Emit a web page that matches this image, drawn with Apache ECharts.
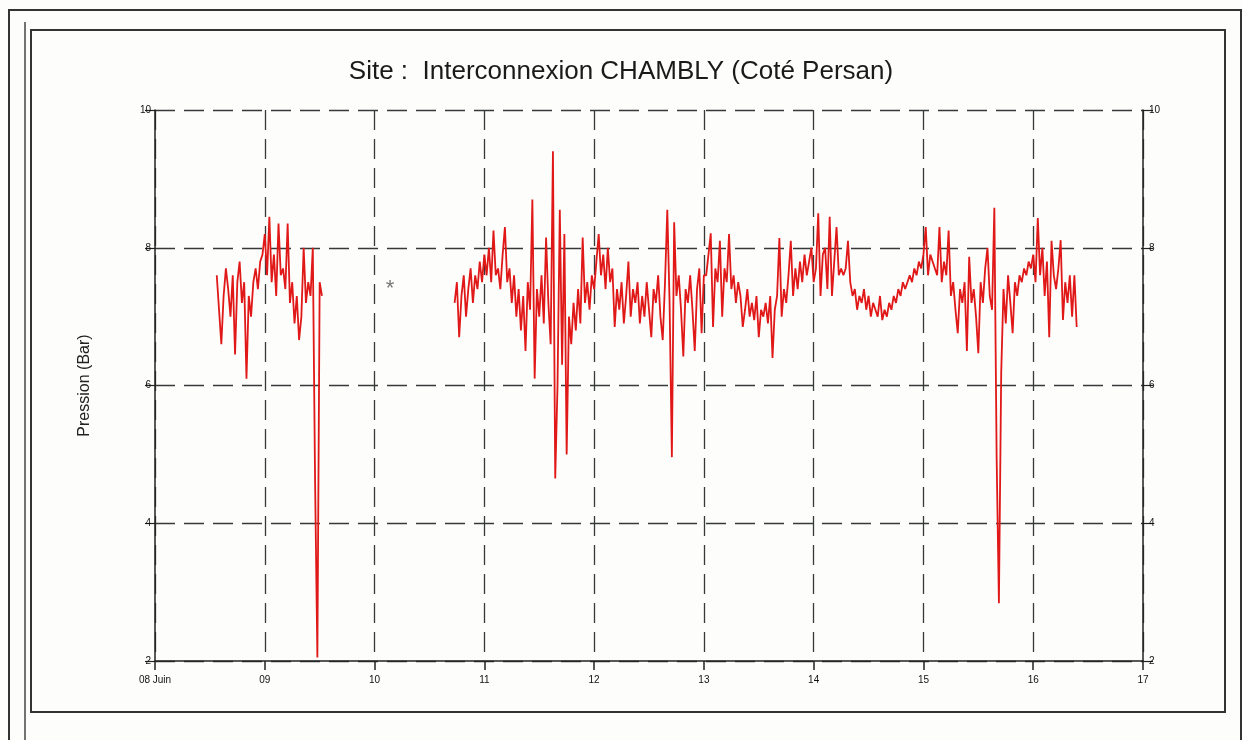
<!DOCTYPE html>
<html>
<head>
<meta charset="utf-8">
<script src="https://cdn.jsdelivr.net/npm/echarts@6/dist/echarts.min.js"></script>
<style>
html,body{margin:0;padding:0;background:#fdfdfb;}
#chart{width:1242px;height:740px;}
</style>
</head>
<body>
<div id="chart"></div>
<script>
// ---- DATA ----
const titleText = 'Site :  Interconnexion CHAMBLY (Coté Persan)';
const yAxisName = 'Pression (Bar)';
const xTickLabels = ['08 Juin','09','10','11','12','13','14','15','16','17'];
const sampleStep = 1 / 48; // 30-minute samples, in days from 08 Juin 00:00
const seg1Start = 0.5625;
const seg1Values = [
  7.6,7.1,6.6,7.3,7.7,7.4,7.0,7.6,6.45,7.5,
  7.8,7.2,7.5,6.1,7.3,7.0,7.5,7.7,7.4,7.8,
  7.9,8.2,7.6,8.45,7.5,7.9,7.3,8.35,7.6,7.7,
  7.4,8.35,7.2,7.5,6.9,7.3,6.66,7.0,8.0,7.2,
  7.5,7.3,8.0,4.6,2.05,7.5,7.3
];
const seg2Start = 2.7292;
const seg2Values = [
  7.2,7.5,6.7,7.3,7.6,7.0,7.4,7.7,7.2,7.6,
  7.4,7.8,7.5,7.9,7.6,8.0,7.5,8.25,7.6,7.7,
  7.4,7.9,8.3,7.5,7.7,7.2,7.6,7.0,7.4,6.8,
  7.3,6.5,7.5,7.1,8.7,6.1,7.4,7.0,7.6,6.9,
  8.15,7.2,6.6,9.4,4.65,6.0,8.55,6.3,8.2,5.0,
  7.0,6.6,7.2,6.8,7.4,6.9,8.15,7.2,7.5,7.1,
  7.6,7.4,7.8,8.2,7.6,7.9,7.4,8.0,7.5,7.7,
  6.85,7.4,7.1,7.5,6.9,7.3,7.8,7.0,7.4,7.2,
  7.5,6.9,7.3,7.0,7.5,7.1,6.7,7.4,7.2,7.6,
  7.0,6.66,7.5,8.55,7.2,4.96,8.37,7.3,7.6,7.1,
  6.42,7.4,7.2,7.6,7.1,6.5,7.4,7.7,6.76,7.6,
  7.6,7.9,8.21,6.85,7.7,7.5,8.1,7.0,7.7,7.5,
  8.2,7.4,7.6,7.2,7.5,7.3,6.85,7.1,7.4,7.0,
  7.2,6.95,7.3,6.7,7.1,7.0,7.2,6.9,7.3,6.4,
  7.1,7.3,8.14,7.0,7.4,7.2,7.6,8.1,7.3,7.7,
  7.4,7.8,7.5,7.9,7.6,7.8,8.0,7.5,7.7,8.5,
  7.3,7.9,8.0,7.4,8.45,7.3,7.8,8.3,7.6,7.7,
  7.6,7.7,8.1,7.5,7.3,7.4,7.1,7.3,7.2,7.4,
  7.1,7.3,7.0,7.2,7.1,7.0,7.3,6.95,7.1,7.0,
  7.2,7.1,7.3,7.2,7.4,7.3,7.5,7.4,7.5,7.6,
  7.5,7.7,7.6,7.8,7.7,7.9,8.3,7.6,7.9,7.8,
  7.7,7.6,8.3,7.5,7.8,7.6,8.25,7.3,7.5,7.1,
  6.76,7.4,7.2,7.5,6.5,7.87,7.2,7.4,7.0,6.47,
  7.5,7.2,7.7,8.0,7.3,7.1,8.58,4.96,2.84,6.18,
  7.4,6.9,7.6,7.2,6.76,7.5,7.3,7.6,7.5,7.7,
  7.6,7.8,7.7,7.9,7.5,8.43,7.6,8.0,7.3,7.8,
  6.7,8.1,7.6,7.4,7.7,8.11,6.95,7.5,7.2,7.6,
  7.0,7.6,6.85
];
const asteriskPoint = [2.14, 7.4];
const yMin = 2, yMax = 10, yStep = 2;

// ---- BUILD ----
function toPairs(start, vals){ return vals.map((v,i)=>[start + i*sampleStep, v]); }
const seg1 = toPairs(seg1Start, seg1Values);
const seg2 = toPairs(seg2Start, seg2Values);

const chart = echarts.init(document.getElementById('chart'), null, {renderer:'canvas'});
const gridDash = {color:'#353a38', type:[20,9], width:1.3};
const axisFont = {fontFamily:'Liberation Sans', fontSize:10, color:'#111'};
const red = '#e01818';

chart.setOption({
  backgroundColor:'#fdfdfb',
  animation:false,
  title:{
    text:titleText, left:'center', top:54,
    textStyle:{fontFamily:'Liberation Sans', fontSize:26, fontWeight:'normal', color:'#1a1a1a'}
  },
  graphic:[
    {type:'rect', shape:{x:9,y:10,width:1232,height:740}, style:{fill:'none', stroke:'#333', lineWidth:2}, silent:true},
    {type:'line', shape:{x1:25,y1:22,x2:25,y2:740}, style:{stroke:'#444', lineWidth:1.5}, silent:true},
    {type:'rect', shape:{x:31,y:30,width:1194,height:682}, style:{fill:'none', stroke:'#333', lineWidth:2}, silent:true}
  ],
  grid:{left:155, right:99, top:110, bottom:79, containLabel:false},
  xAxis:{
    type:'value', min:0, max:9, interval:1,
    axisLine:{show:true, lineStyle:{color:'#222', width:1.5}},
    axisTick:{show:true, length:9, lineStyle:{color:'#222', width:1.5}},
    axisLabel:Object.assign({margin:14, formatter:(v)=>xTickLabels[Math.round(v)]}, axisFont),
    splitLine:{show:true, lineStyle:gridDash}
  },
  yAxis:[
    {
      type:'value', min:yMin, max:yMax, interval:yStep, position:'left',
      name:yAxisName, nameLocation:'middle', nameGap:62,
      nameTextStyle:{fontFamily:'Liberation Sans', fontSize:16, color:'#222'},
      axisLine:{show:true, lineStyle:{color:'#222', width:1.5}},
      axisTick:{show:true, length:10, lineStyle:{color:'#222', width:1.2}},
      axisLabel:Object.assign({margin:4}, axisFont),
      splitLine:{show:true, lineStyle:gridDash}
    },
    {
      type:'value', min:yMin, max:yMax, interval:yStep, position:'right',
      axisLine:{show:true, lineStyle:{color:'#222', width:1.5}},
      axisTick:{show:true, length:10, lineStyle:{color:'#222', width:1.2}},
      axisLabel:Object.assign({margin:6}, axisFont),
      splitLine:{show:false}
    }
  ],
  series:[
    {type:'line', data:seg1, showSymbol:false, symbol:'none', silent:true,
     lineStyle:{color:red, width:1.8}, z:5},
    {type:'line', data:seg2, showSymbol:false, symbol:'none', silent:true,
     lineStyle:{color:red, width:1.8}, z:5},
    {type:'scatter', data:[asteriskPoint], symbolSize:1, itemStyle:{color:'rgba(0,0,0,0)'}, silent:true,
     label:{show:true, position:'inside', formatter:'*', fontFamily:'Liberation Sans', fontSize:22, color:'#555'}}
  ]
});
</script>
</body>
</html>
